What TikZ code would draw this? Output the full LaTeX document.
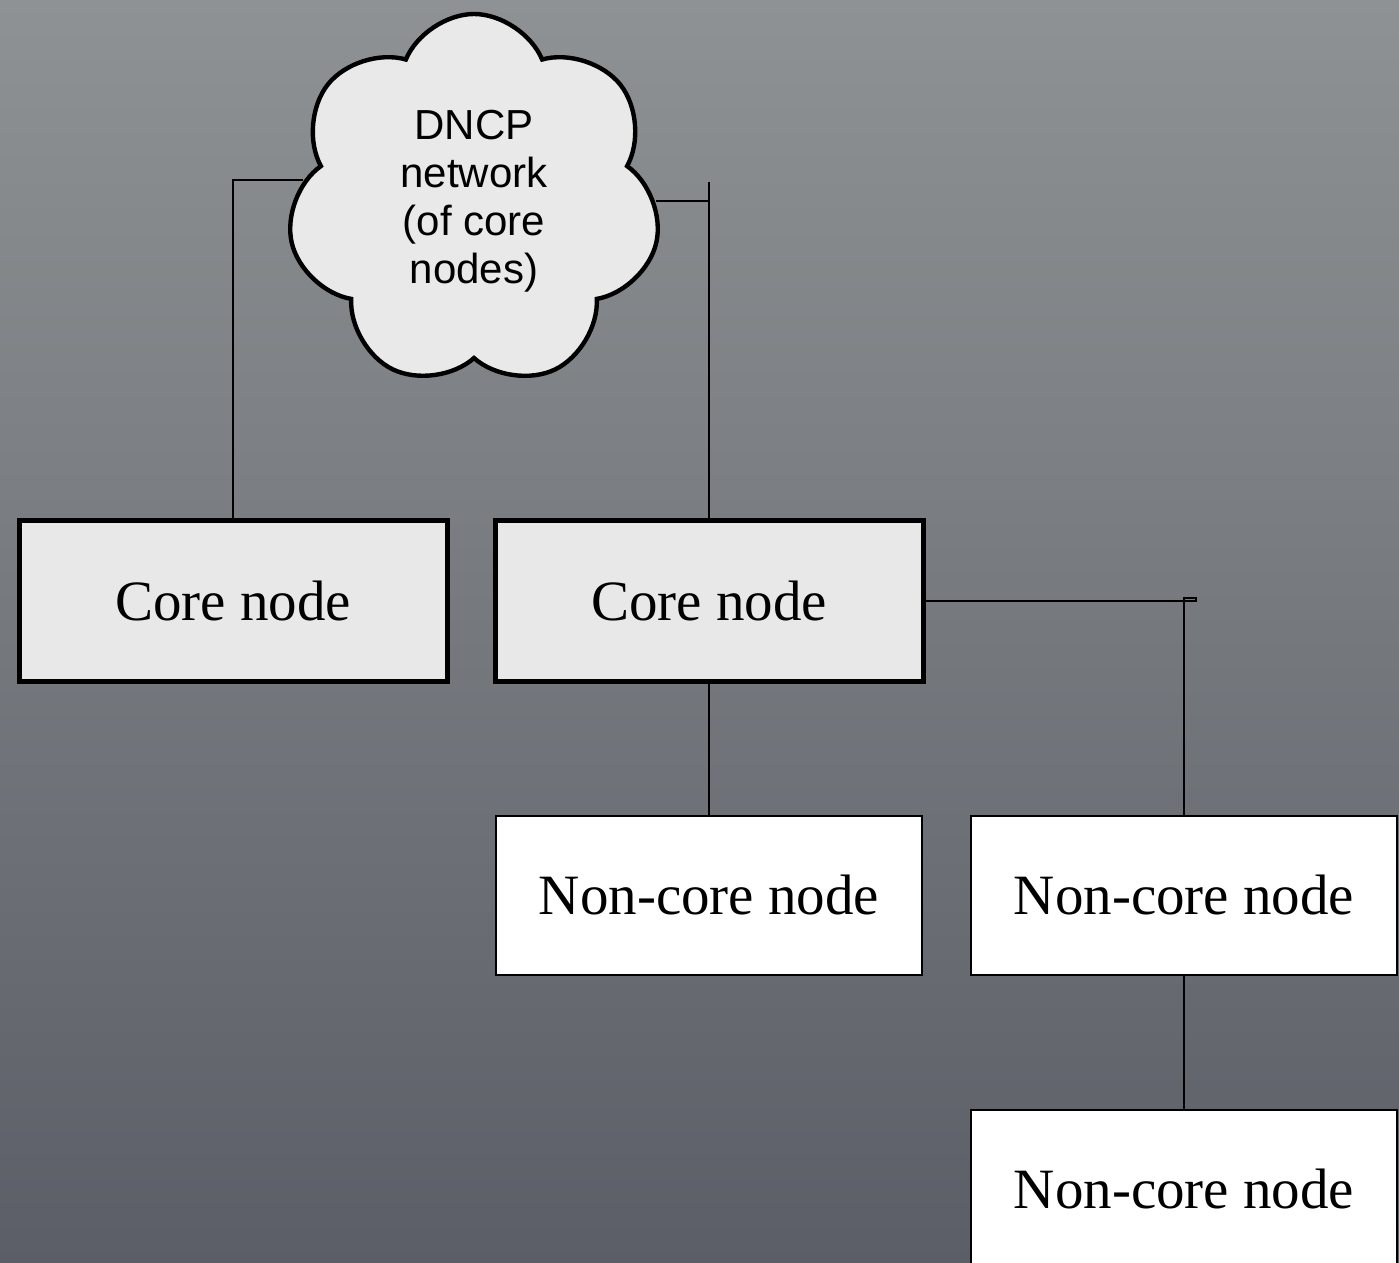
\documentclass[tikz,border=0pt]{standalone}
\usepackage{fontspec}
\setmainfont{Liberation Serif}
\newfontfamily\cloudfont{Liberation Sans}
\usepackage{tikz}
\usetikzlibrary{shapes.symbols}
\definecolor{bgtop}{HTML}{8F9294}
\definecolor{bgbot}{HTML}{5B5E66}
\definecolor{boxfill}{HTML}{E8E8E8}
\definecolor{cloudfill}{HTML}{E9E9E9}

\begin{document}
\begin{tikzpicture}[x=0.5pt,y=-0.5pt,
  corebox/.style={draw=black,line width=2.5pt,fill=boxfill,
    minimum width=214pt,minimum height=80.5pt,font=\fontsize{28.5}{34}\selectfont},
  leafbox/.style={draw=black,line width=1pt,fill=white,
    minimum width=213pt,minimum height=79.5pt,font=\fontsize{28.5}{34}\selectfont},
  netcloud/.style={cloud,cloud puffs=7,cloud puff arc=135,aspect=1,shape border rotate=10,
    draw=black,line width=2.2pt,fill=cloudfill,align=center,inner sep=0pt,
    minimum width=187pt,minimum height=187pt,
    font=\cloudfont\fontsize{21}{24}\selectfont},
  link/.style={black,line width=1pt}]
  \useasboundingbox (0,0) rectangle (1399,1263);
  \shade[top color=bgtop,bottom color=bgbot] (0,0) rectangle (1399,1263);

  \node[netcloud] (dncp) at (474,201) {DNCP\\network\\(of core\\nodes)};

  \node[corebox] (coreA) at (233,601) {Core node};
  \node[corebox] (coreB) at (709,601) {Core node};
  \node[leafbox] (leafA) at (709,895) {Non-core node};
  \node[leafbox] (leafB) at (1184,895) {Non-core node};
  \node[leafbox] (leafC) at (1184,1189) {Non-core node};

  \coordinate (jog) at (709,182);
  \coordinate (loop) at (1196,598);

  \draw[link] (dncp.173) -| (coreA.north);
  \draw[link] (dncp.east) -- (dncp.east -| jog);
  \draw[link] (coreB.north) -- (jog);
  \draw[link] (coreB.east) -| (loop) -| (leafB.north);
  \draw[link] (coreB.south) -- (leafA.north);
  \draw[link] (leafB.south) -- (leafC.north);
\end{tikzpicture}
\end{document}
